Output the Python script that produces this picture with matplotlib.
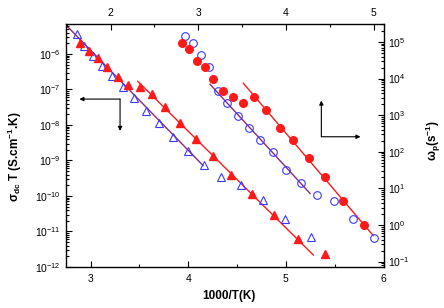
import numpy as np
import matplotlib
matplotlib.use('Agg')
import matplotlib.pyplot as plt
from matplotlib.ticker import LogLocator, LogFormatterMathtext, MultipleLocator, NullFormatter, FixedLocator

plt.rcParams['font.family'] = ['Liberation Sans', 'DejaVu Sans']
plt.rcParams['mathtext.fontset'] = 'custom'
plt.rcParams['mathtext.rm'] = 'Liberation Sans'
plt.rcParams['mathtext.it'] = 'Liberation Sans:italic'
plt.rcParams['mathtext.bf'] = 'Liberation Sans:bold'

# sigma_dc*T vs 1000/T  (bottom / left axes)
tri_open_x = [2.857, 2.934, 3.020, 3.116, 3.215, 3.328, 3.441, 3.567, 3.697, 3.840,
              3.994, 4.161, 4.340, 4.537, 4.762, 4.993, 5.260]
tri_open_logy = [-5.437, -5.766, -6.065, -6.338, -6.628, -6.938, -7.239, -7.597, -7.952, -8.346,
                 -8.732, -9.127, -9.451, -9.696, -10.107, -10.648, -11.163]
tri_fill_x = [2.890, 2.980, 3.072, 3.170, 3.277, 3.385, 3.505, 3.631, 3.764, 3.915,
              4.079, 4.248, 4.435, 4.650, 4.876, 5.122, 5.398]
tri_fill_logy = [-5.699, -5.907, -6.121, -6.375, -6.656, -6.865, -6.938, -7.127, -7.501, -7.944,
                 -8.394, -8.879, -9.403, -9.938, -10.549, -11.211, -11.620]
fit_open_tri_x = [2.747, 4.151]
fit_open_tri_logy = [-5.183, -9.141]
fit_fill_tri_x = [3.482, 5.281]
fit_fill_tri_logy = [-6.769, -11.662]
left_decades = [-12, -11, -10, -9, -8, -7, -6]

# omega_p (top / right axes)
circ_open_x = [2.852, 2.940, 3.031, 3.125, 3.221, 3.327, 3.449, 3.575, 3.704, 3.852,
               4.002, 4.171, 4.351, 4.551, 4.767, 5.007]
circ_open_logy = [5.156, 4.978, 4.653, 4.325, 3.661, 3.325, 2.978, 2.658, 2.322, 1.986,
                  1.495, 1.156, 0.825, 0.656, 0.156, -0.347]
circ_fill_x = [2.814, 2.897, 2.982, 3.076, 3.164, 3.278, 3.392, 3.512, 3.637, 3.774,
               3.926, 4.083, 4.259, 4.441, 4.653, 4.889]
circ_fill_logy = [4.981, 4.809, 4.481, 4.309, 3.981, 3.661, 3.489, 3.325, 3.489, 3.148,
                  2.656, 2.322, 1.822, 1.320, 0.656, -0.008]
fit_open_circ_x = [3.133, 4.274]
fit_open_circ_logy = [3.844, 0.861]
fit_fill_circ_x = [3.513, 4.995]
fit_fill_circ_logy = [3.872, -0.292]
right_decades = [-1, 0, 1, 2, 3, 4, 5]

blue = '#3a3aff'
red = '#ff1a1a'
purple = '#8a2a7a'

fig = plt.figure(figsize=(4.44, 3.08), dpi=100)
rect = [66/444, 1-267/308, 318/444, 243/308]
ax = fig.add_axes(rect)
ax2 = fig.add_axes(rect, frameon=False)
ax2.patch.set_visible(False)

p = lambda v: 10**np.array(v, dtype=float)

ax.plot(fit_open_tri_x, p(fit_open_tri_logy), color=purple, lw=1)
ax.plot(fit_fill_tri_x, p(fit_fill_tri_logy), color=red, lw=1)
ax.plot(tri_open_x, p(tri_open_logy), ls='none', marker='^', ms=5.3, mfc='none', mec=blue, mew=0.8)
ax.plot(tri_fill_x, p(tri_fill_logy), ls='none', marker='^', ms=5.3, color=red)

ax2.plot(fit_open_circ_x, p(fit_open_circ_logy), color=purple, lw=1)
ax2.plot(fit_fill_circ_x, p(fit_fill_circ_logy), color=red, lw=1)
ax2.plot(circ_open_x, p(circ_open_logy), ls='none', marker='o', ms=5.5, mfc='none', mec=blue, mew=0.8)
ax2.plot(circ_fill_x, p(circ_fill_logy), ls='none', marker='o', ms=5.5, color=red)

ax.set_yscale('log')
ax.set_xlim(2.747, 6.005)
ax.set_ylim(1e-12, 10**-5.155)
ax2.set_yscale('log')
ax2.set_xlim(1.491, 5.117)
ax2.set_ylim(10**-1.148, 10**5.49)

ax.xaxis.set_ticks_position('bottom')
ax.yaxis.set_ticks_position('left')
ax2.xaxis.set_ticks_position('top')
ax2.xaxis.set_label_position('top')
ax2.yaxis.set_ticks_position('right')
ax2.yaxis.set_label_position('right')

ax.xaxis.set_major_locator(FixedLocator([3, 4, 5, 6]))
ax.xaxis.set_minor_locator(MultipleLocator(0.5))
ax2.xaxis.set_major_locator(FixedLocator([2, 3, 4, 5]))
ax2.xaxis.set_minor_locator(MultipleLocator(0.5))
ax.yaxis.set_major_locator(FixedLocator(p(left_decades)))
ax2.yaxis.set_major_locator(FixedLocator(p(right_decades)))
for a in (ax, ax2):
    a.yaxis.set_minor_locator(LogLocator(base=10, subs=np.arange(2, 10), numticks=20))
    a.yaxis.set_minor_formatter(NullFormatter())
    a.yaxis.set_major_formatter(LogFormatterMathtext())
    a.tick_params(which='both', direction='in', labelsize=7.5, width=0.8)
    a.tick_params(which='major', length=4)
    a.tick_params(which='minor', length=2)
    a.xaxis.offsetText.set_visible(False)
    a.yaxis.offsetText.set_visible(False)
ax.tick_params(axis='x', pad=5)
ax.tick_params(axis='y', pad=4)
ax2.tick_params(axis='x', pad=4)
ax2.tick_params(axis='y', pad=3)
for s in ax.spines.values():
    s.set_linewidth(1.0)

ax.set_xlabel('1000/T(K)', fontsize=8.5, fontweight='bold')
ax.xaxis.set_label_coords(0.511, -0.095)
ax.set_ylabel(r'σ$_{\mathbf{dc}}$ T (S.cm$^{\mathbf{-1}}$.K)', fontsize=8.5, fontweight='bold')
ax.yaxis.set_label_coords(-0.132, 0.455)
ax2.set_ylabel(r'ω$_{\mathbf{p}}$(s$^{\mathbf{-1}}$)', fontsize=8.5, fontweight='bold')
ax2.yaxis.set_label_coords(1.126, 0.52)

arr = dict(arrowstyle='-|>', color='black', lw=0.8, mutation_scale=6, shrinkA=0, shrinkB=0)
ax.annotate('', xy=(0.042, 0.691), xytext=(0.170, 0.691), xycoords='axes fraction', arrowprops=arr)
ax.annotate('', xy=(0.170, 0.560), xytext=(0.170, 0.691), xycoords='axes fraction', arrowprops=arr)
ax.annotate('', xy=(0.803, 0.685), xytext=(0.803, 0.536), xycoords='axes fraction', arrowprops=arr)
ax.annotate('', xy=(0.926, 0.536), xytext=(0.803, 0.536), xycoords='axes fraction', arrowprops=arr)

fig.savefig('out.png', dpi=100)
